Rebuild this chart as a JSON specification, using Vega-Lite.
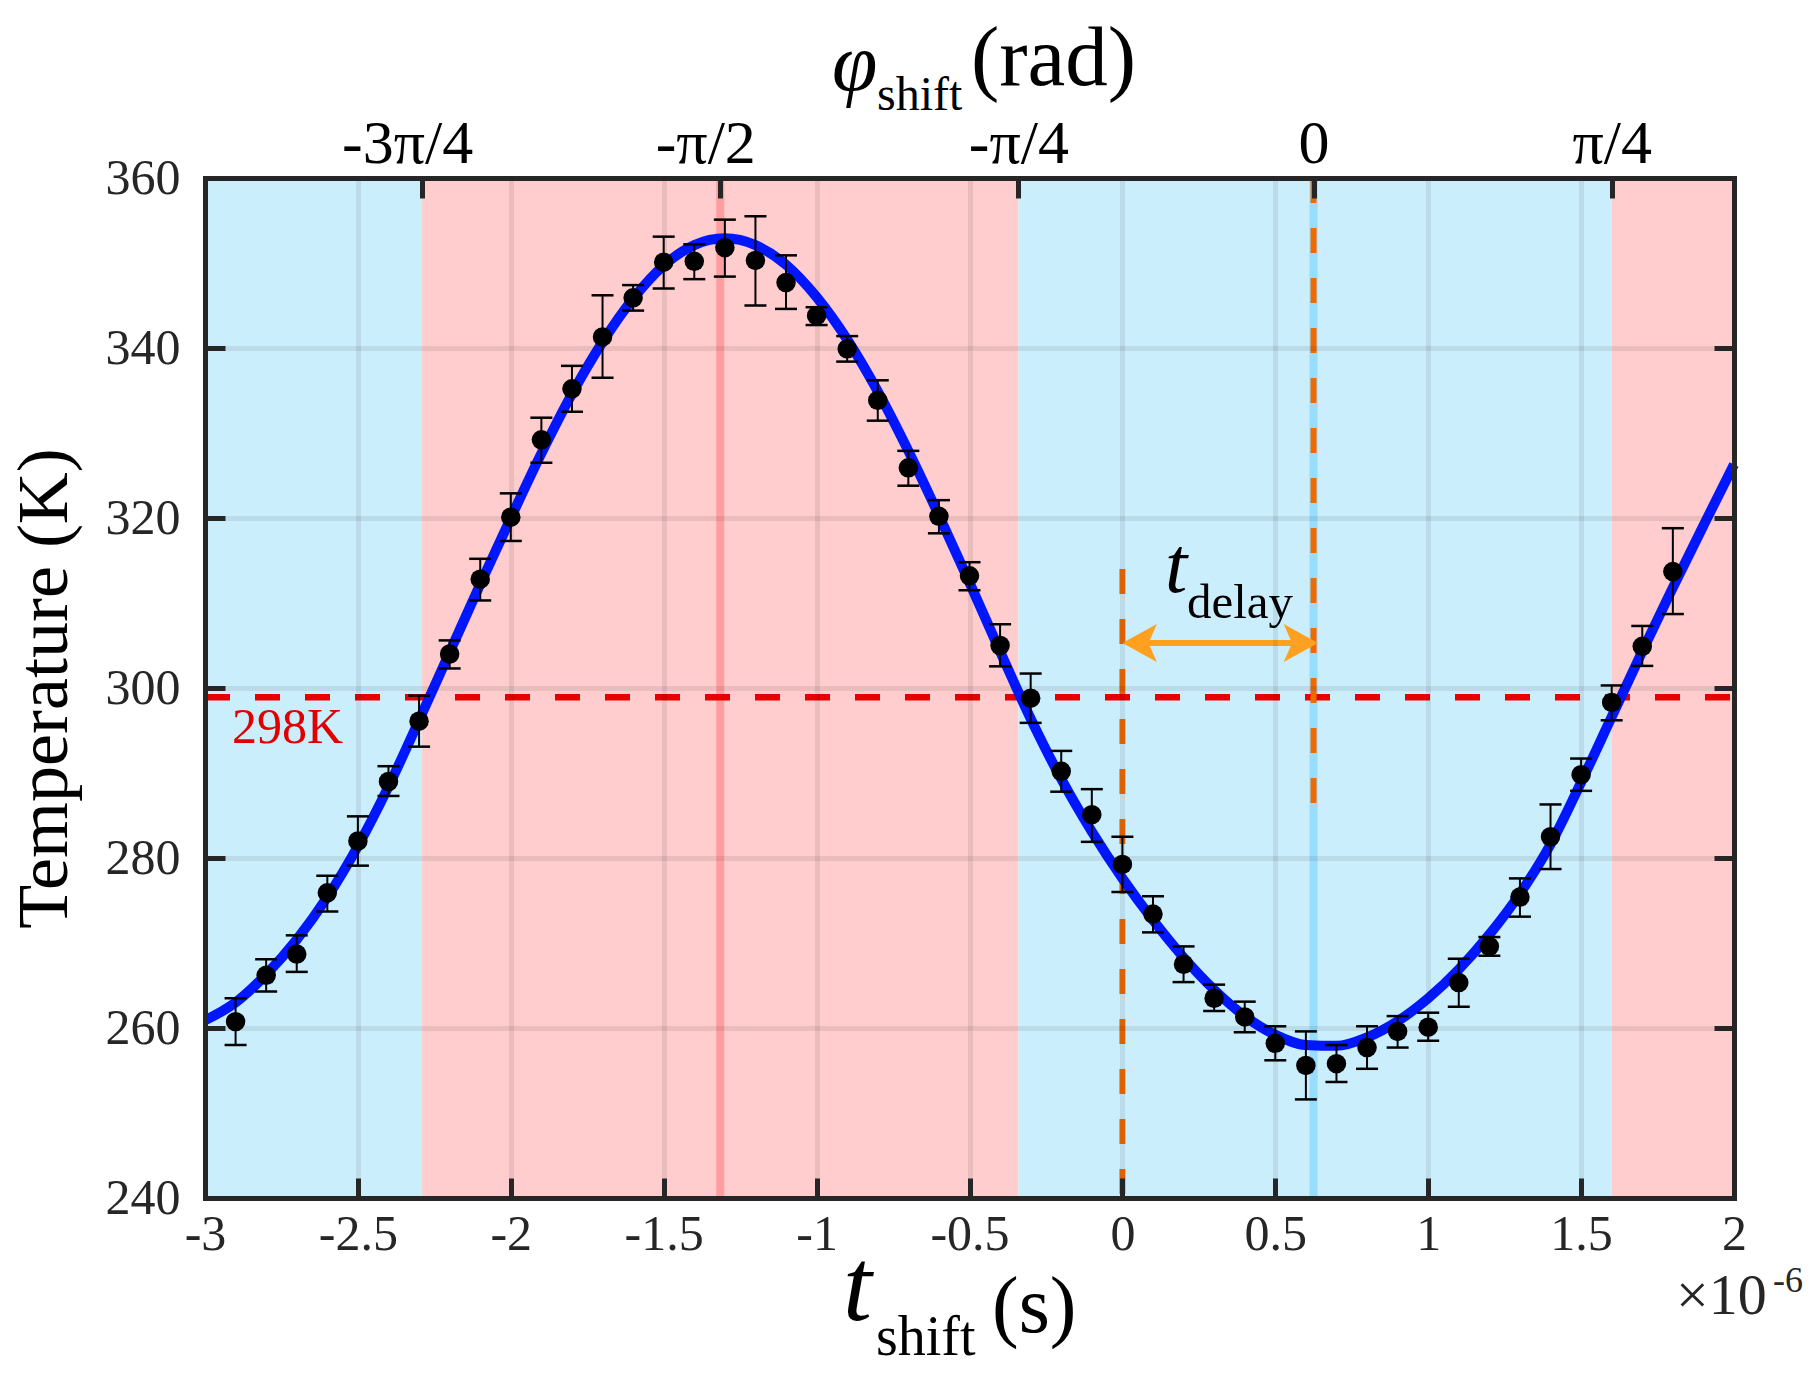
{
  "$schema": "https://vega.github.io/schema/vega-lite/v6.json",
  "width": 1529,
  "height": 1020,
  "autosize": {"type": "none"},
  "padding": {"left": 205, "top": 178, "right": 83, "bottom": 175},
  "background": "white",
  "config": {"view": {"stroke": null}, "font": "Liberation Serif"},
  "datasets": {
    "zones": [
      {"t0": -3, "t1": -2.29, "zone": "cool"},
      {"t0": -2.29, "t1": -0.34, "zone": "warm"},
      {"t0": -0.34, "t1": 1.6, "zone": "cool"},
      {"t0": 1.6, "t1": 2, "zone": "warm"}
    ],
    "fit": [
      {"t": -3.0, "T": 260.9}, {"t": -2.9, "T": 263.0}, {"t": -2.8, "T": 266.3}, {"t": -2.7, "T": 270.4},
      {"t": -2.6, "T": 275.4}, {"t": -2.5, "T": 281.4}, {"t": -2.4, "T": 288.4}, {"t": -2.3, "T": 296.2},
      {"t": -2.2, "T": 304.2}, {"t": -2.1, "T": 312.2}, {"t": -2.0, "T": 320.0}, {"t": -1.9, "T": 327.6},
      {"t": -1.8, "T": 334.6}, {"t": -1.7, "T": 340.7}, {"t": -1.6, "T": 345.8}, {"t": -1.5, "T": 349.7},
      {"t": -1.4, "T": 352.1}, {"t": -1.3, "T": 352.9}, {"t": -1.2, "T": 352.1}, {"t": -1.1, "T": 349.8},
      {"t": -1.0, "T": 346.0}, {"t": -0.9, "T": 341.0}, {"t": -0.8, "T": 334.9}, {"t": -0.7, "T": 327.9},
      {"t": -0.6, "T": 320.3}, {"t": -0.5, "T": 312.4}, {"t": -0.4, "T": 304.3}, {"t": -0.3, "T": 296.4},
      {"t": -0.2, "T": 289.3}, {"t": -0.1, "T": 283.1}, {"t": 0.0, "T": 277.6}, {"t": 0.1, "T": 272.7},
      {"t": 0.2, "T": 268.3}, {"t": 0.3, "T": 264.5}, {"t": 0.4, "T": 261.4}, {"t": 0.5, "T": 259.2},
      {"t": 0.6, "T": 258.0}, {"t": 0.7, "T": 257.9}, {"t": 0.8, "T": 258.9}, {"t": 0.9, "T": 260.8},
      {"t": 1.0, "T": 263.5}, {"t": 1.1, "T": 266.9}, {"t": 1.2, "T": 271.0}, {"t": 1.3, "T": 275.8},
      {"t": 1.4, "T": 281.6}, {"t": 1.5, "T": 288.9}, {"t": 1.6, "T": 296.6}, {"t": 1.7, "T": 304.3},
      {"t": 1.8, "T": 311.8}, {"t": 1.9, "T": 319.1}, {"t": 2.0, "T": 326.3}
    ],
    "meas": [
      {"t": -2.9, "T": 260.75, "lo": 258.0, "hi": 263.5},
      {"t": -2.8, "T": 266.2, "lo": 264.3, "hi": 268.1},
      {"t": -2.7, "T": 268.7, "lo": 266.6, "hi": 270.9},
      {"t": -2.6, "T": 275.9, "lo": 273.7, "hi": 277.9},
      {"t": -2.5, "T": 282.0, "lo": 279.1, "hi": 284.9},
      {"t": -2.4, "T": 289.0, "lo": 287.3, "hi": 290.8},
      {"t": -2.3, "T": 296.1, "lo": 293.1, "hi": 299.1},
      {"t": -2.2, "T": 304.0, "lo": 302.3, "hi": 305.6},
      {"t": -2.1, "T": 312.8, "lo": 310.3, "hi": 315.2},
      {"t": -2.0, "T": 320.1, "lo": 317.3, "hi": 322.9},
      {"t": -1.9, "T": 329.2, "lo": 326.5, "hi": 331.8},
      {"t": -1.8, "T": 335.2, "lo": 332.5, "hi": 337.9},
      {"t": -1.7, "T": 341.3, "lo": 336.5, "hi": 346.2},
      {"t": -1.6, "T": 345.9, "lo": 344.4, "hi": 347.4},
      {"t": -1.5, "T": 350.1, "lo": 347.0, "hi": 353.1},
      {"t": -1.4, "T": 350.2, "lo": 348.1, "hi": 352.2},
      {"t": -1.3, "T": 351.8, "lo": 348.4, "hi": 355.1},
      {"t": -1.2, "T": 350.3, "lo": 345.0, "hi": 355.5},
      {"t": -1.1, "T": 347.7, "lo": 344.6, "hi": 350.9},
      {"t": -1.0, "T": 343.8, "lo": 342.7, "hi": 344.8},
      {"t": -0.9, "T": 339.9, "lo": 338.4, "hi": 341.4},
      {"t": -0.8, "T": 333.85, "lo": 331.45, "hi": 336.2},
      {"t": -0.7, "T": 325.9, "lo": 323.8, "hi": 327.9},
      {"t": -0.6, "T": 320.2, "lo": 318.2, "hi": 322.1},
      {"t": -0.5, "T": 313.2, "lo": 311.5, "hi": 314.8},
      {"t": -0.4, "T": 305.0, "lo": 302.55, "hi": 307.5},
      {"t": -0.3, "T": 298.8, "lo": 295.9, "hi": 301.7},
      {"t": -0.2, "T": 290.2, "lo": 287.8, "hi": 292.6},
      {"t": -0.1, "T": 285.1, "lo": 281.9, "hi": 288.1},
      {"t": 0.0, "T": 279.25, "lo": 276.0, "hi": 282.5},
      {"t": 0.1, "T": 273.4, "lo": 271.25, "hi": 275.5},
      {"t": 0.2, "T": 267.5, "lo": 265.4, "hi": 269.6},
      {"t": 0.3, "T": 263.5, "lo": 262.0, "hi": 265.1},
      {"t": 0.4, "T": 261.3, "lo": 259.5, "hi": 263.1},
      {"t": 0.5, "T": 258.2, "lo": 256.2, "hi": 260.2},
      {"t": 0.6, "T": 255.6, "lo": 251.6, "hi": 259.6},
      {"t": 0.7, "T": 255.8, "lo": 253.65, "hi": 258.0},
      {"t": 0.8, "T": 257.7, "lo": 255.2, "hi": 260.2},
      {"t": 0.9, "T": 259.6, "lo": 257.7, "hi": 261.4},
      {"t": 1.0, "T": 260.1, "lo": 258.5, "hi": 261.8},
      {"t": 1.1, "T": 265.35, "lo": 262.5, "hi": 268.15},
      {"t": 1.2, "T": 269.6, "lo": 268.5, "hi": 270.7},
      {"t": 1.3, "T": 275.4, "lo": 273.1, "hi": 277.6},
      {"t": 1.4, "T": 282.5, "lo": 278.7, "hi": 286.3},
      {"t": 1.5, "T": 289.8, "lo": 287.9, "hi": 291.7},
      {"t": 1.6, "T": 298.3, "lo": 296.2, "hi": 300.3},
      {"t": 1.7, "T": 304.9, "lo": 302.6, "hi": 307.3},
      {"t": 1.8, "T": 313.7, "lo": 308.7, "hi": 318.8}
    ]
  },
  "resolve": {"axis": {"x": "independent", "y": "independent"}, "scale": {"color": "independent", "shape": "independent"}},
  "layer": [
    {
      "data": {"name": "zones"},
      "mark": {"type": "rect"},
      "encoding": {
        "x": {"field": "t0", "type": "quantitative", "scale": {"domain": [-3, 2], "nice": false},
          "axis": {"orient": "bottom", "values": [-3, -2.5, -2, -1.5, -1, -0.5, 0, 0.5, 1, 1.5, 2],
            "labelExpr": "toString(datum.value)", "title": null, "zindex": 1,
            "domainColor": "#262626", "domainWidth": 5, "domainCap": "square",
            "tickColor": "#262626", "tickWidth": 5, "tickSize": -20,
            "labelFont": "Liberation Serif", "labelFontSize": 50, "labelColor": "#262626", "labelPadding": 31,
            "labelFlush": false, "labelOverlap": false, "labelBound": false,
            "grid": true, "gridColor": "#000000", "gridOpacity": 0.08, "gridWidth": 5}},
        "x2": {"field": "t1"},
        "y": {"datum": 240, "type": "quantitative", "scale": {"domain": [240, 360], "nice": false},
          "axis": {"orient": "left", "values": [240, 260, 280, 300, 320, 340, 360],
            "labelExpr": "toString(datum.value)", "zindex": 1,
            "title": "Temperature (K)", "titleFont": "Liberation Serif", "titleFontSize": 72, "titleFontWeight": "normal", "titleColor": "#000000", "titlePadding": 24,
            "domainColor": "#262626", "domainWidth": 5, "domainCap": "square",
            "tickColor": "#262626", "tickWidth": 5, "tickSize": -20,
            "labelFont": "Liberation Serif", "labelFontSize": 50, "labelColor": "#262626", "labelPadding": 45,
            "labelFlush": false, "labelOverlap": false, "labelBound": false,
            "grid": true, "gridColor": "#000000", "gridOpacity": 0.08, "gridWidth": 5}},
        "y2": {"datum": 360},
        "color": {"field": "zone", "type": "nominal", "scale": {"domain": ["cool", "warm"], "range": ["#cbeefd", "#ffcdcd"]}, "legend": null}
      }
    },
    {
      "data": {"values": [{"t": -1.315}]},
      "mark": {"type": "rule", "color": "#ff6666", "opacity": 0.45, "strokeWidth": 8},
      "encoding": {
        "x": {"field": "t", "type": "quantitative", "scale": {"domain": [-3, 2], "nice": false},
          "axis": {"orient": "top", "values": [-2.29, -1.315, -0.34, 0.625, 1.6],
            "labelExpr": "datum.value < -2 ? '-3π/4' : datum.value < -1 ? '-π/2' : datum.value < 0 ? '-π/4' : datum.value < 1 ? '0' : 'π/4'",
            "labelOffset": {"condition": {"test": "datum.value < -1", "value": -15}, "value": 0},
            "title": null, "zindex": 1, "grid": false,
            "domainColor": "#262626", "domainWidth": 5, "domainCap": "square",
            "tickColor": "#262626", "tickWidth": 5, "tickSize": -20,
            "labelFont": "Liberation Serif", "labelFontSize": 62, "labelColor": "#000000", "labelPadding": 23,
            "labelFlush": false, "labelOverlap": false, "labelBound": false}},
        "y": {"datum": 240, "type": "quantitative", "scale": {"domain": [240, 360], "nice": false},
          "axis": {"orient": "right", "values": [240, 260, 280, 300, 320, 340, 360], "labels": false,
            "title": null, "zindex": 1, "grid": false,
            "domainColor": "#262626", "domainWidth": 5, "domainCap": "square",
            "tickColor": "#262626", "tickWidth": 5, "tickSize": -20}},
        "y2": {"datum": 360}
      }
    },
    {
      "data": {"values": [{"t": 0.625}]},
      "mark": {"type": "rule", "color": "#66ccff", "opacity": 0.5, "strokeWidth": 8},
      "encoding": {
        "x": {"field": "t", "type": "quantitative", "scale": {"domain": [-3, 2], "nice": false}, "axis": null},
        "y": {"datum": 240, "type": "quantitative", "scale": {"domain": [240, 360], "nice": false}, "axis": null},
        "y2": {"datum": 360}
      }
    },
    {
      "data": {"values": [{"t0": -3, "t1": 2, "T": 298.9}]},
      "mark": {"type": "rule", "color": "#e60000", "strokeWidth": 6.5, "strokeDash": [25, 25]},
      "encoding": {
        "x": {"field": "t0", "type": "quantitative", "scale": {"domain": [-3, 2], "nice": false}, "axis": null},
        "x2": {"field": "t1"},
        "y": {"field": "T", "type": "quantitative", "scale": {"domain": [240, 360], "nice": false}, "axis": null}
      }
    },
    {
      "data": {"values": [{"t": 0, "Ta": 314.0, "Tb": 240}, {"t": 0.625, "Ta": 360, "Tb": 286.0}]},
      "mark": {"type": "rule", "color": "#f06a00", "strokeWidth": 6, "strokeDash": [25, 25]},
      "encoding": {
        "x": {"field": "t", "type": "quantitative", "scale": {"domain": [-3, 2], "nice": false}, "axis": null},
        "y": {"field": "Ta", "type": "quantitative", "scale": {"domain": [240, 360], "nice": false}, "axis": null},
        "y2": {"field": "Tb"}
      }
    },
    {
      "data": {"name": "fit"},
      "mark": {"type": "line", "color": "#0016ff", "strokeWidth": 10, "interpolate": "monotone"},
      "encoding": {
        "x": {"field": "t", "type": "quantitative", "scale": {"domain": [-3, 2], "nice": false}, "axis": null},
        "y": {"field": "T", "type": "quantitative", "scale": {"domain": [240, 360], "nice": false}, "axis": null}
      }
    },
    {
      "data": {"name": "meas"},
      "mark": {"type": "rule", "color": "#000000", "strokeWidth": 2},
      "encoding": {
        "x": {"field": "t", "type": "quantitative", "scale": {"domain": [-3, 2], "nice": false}, "axis": null},
        "y": {"field": "lo", "type": "quantitative", "scale": {"domain": [240, 360], "nice": false}, "axis": null},
        "y2": {"field": "hi"}
      }
    },
    {
      "data": {"name": "meas"},
      "transform": [{"fold": ["lo", "hi"], "as": ["end", "val"]}],
      "mark": {"type": "tick", "color": "#000000", "orient": "horizontal", "size": 22, "thickness": 2.5, "opacity": 1},
      "encoding": {
        "x": {"field": "t", "type": "quantitative", "scale": {"domain": [-3, 2], "nice": false}, "axis": null},
        "y": {"field": "val", "type": "quantitative", "scale": {"domain": [240, 360], "nice": false}, "axis": null}
      }
    },
    {
      "data": {"name": "meas"},
      "mark": {"type": "circle", "color": "#000000", "size": 380, "opacity": 1},
      "encoding": {
        "x": {"field": "t", "type": "quantitative", "scale": {"domain": [-3, 2], "nice": false}, "axis": null},
        "y": {"field": "T", "type": "quantitative", "scale": {"domain": [240, 360], "nice": false}, "axis": null}
      }
    },
    {
      "data": {"values": [{"t0": 0.06, "t1": 0.58, "T": 305.3}]},
      "mark": {"type": "rule", "color": "#ffa020", "strokeWidth": 6},
      "encoding": {
        "x": {"field": "t0", "type": "quantitative", "scale": {"domain": [-3, 2], "nice": false}, "axis": null},
        "x2": {"field": "t1"},
        "y": {"field": "T", "type": "quantitative", "scale": {"domain": [240, 360], "nice": false}, "axis": null}
      }
    },
    {
      "data": {"values": [{"t": 0.0, "T": 305.3, "dir": "left"}, {"t": 0.64, "T": 305.3, "dir": "right"}]},
      "mark": {"type": "point", "filled": true, "color": "#ffa020", "opacity": 1, "size": 2256, "strokeWidth": 0},
      "encoding": {
        "x": {"field": "t", "type": "quantitative", "scale": {"domain": [-3, 2], "nice": false}, "axis": null},
        "y": {"field": "T", "type": "quantitative", "scale": {"domain": [240, 360], "nice": false}, "axis": null},
        "shape": {"field": "dir", "type": "nominal", "scale": {"domain": ["left", "right"], "range": ["M0,0L1.45,-0.8L1.1,0L1.45,0.8Z", "M0,0L-1.45,-0.8L-1.1,0L-1.45,0.8Z"]}, "legend": null}
      }
    },
    {
      "data": {"values": [{"label": "298K", "t": -2.9117, "T": 293.53}]},
      "mark": {"type": "text", "align": "left", "baseline": "alphabetic", "font": "Liberation Serif", "fontSize": 50, "color": "#e00000"},
      "encoding": {
        "x": {"field": "t", "type": "quantitative", "scale": {"domain": [-3, 2], "nice": false}, "axis": null},
        "y": {"field": "T", "type": "quantitative", "scale": {"domain": [240, 360], "nice": false}, "axis": null},
        "text": {"field": "label"}
      }
    },
    {
      "data": {"values": [{"label": "t", "t": 0.1393, "T": 311.29}]},
      "mark": {"type": "text", "align": "left", "baseline": "alphabetic", "font": "Liberation Serif", "fontStyle": "italic", "fontSize": 80, "color": "#000000"},
      "encoding": {
        "x": {"field": "t", "type": "quantitative", "scale": {"domain": [-3, 2], "nice": false}, "axis": null},
        "y": {"field": "T", "type": "quantitative", "scale": {"domain": [240, 360], "nice": false}, "axis": null},
        "text": {"field": "label"}
      }
    },
    {
      "data": {"values": [{"label": "delay", "t": 0.2112, "T": 308.24}]},
      "mark": {"type": "text", "align": "left", "baseline": "alphabetic", "font": "Liberation Serif", "fontSize": 49, "color": "#000000"},
      "encoding": {
        "x": {"field": "t", "type": "quantitative", "scale": {"domain": [-3, 2], "nice": false}, "axis": null},
        "y": {"field": "T", "type": "quantitative", "scale": {"domain": [240, 360], "nice": false}, "axis": null},
        "text": {"field": "label"}
      }
    },
    {
      "data": {"values": [{"label": "t", "t": -0.9137, "T": 225.65}]},
      "mark": {"type": "text", "align": "left", "baseline": "alphabetic", "font": "Liberation Serif", "fontStyle": "italic", "fontSize": 104, "color": "#000000"},
      "encoding": {
        "x": {"field": "t", "type": "quantitative", "scale": {"domain": [-3, 2], "nice": false}, "axis": null},
        "y": {"field": "T", "type": "quantitative", "scale": {"domain": [240, 360], "nice": false}, "axis": null},
        "text": {"field": "label"}
      }
    },
    {
      "data": {"values": [{"label": "shift", "t": -0.8058, "T": 221.53}]},
      "mark": {"type": "text", "align": "left", "baseline": "alphabetic", "font": "Liberation Serif", "fontSize": 56, "color": "#000000"},
      "encoding": {
        "x": {"field": "t", "type": "quantitative", "scale": {"domain": [-3, 2], "nice": false}, "axis": null},
        "y": {"field": "T", "type": "quantitative", "scale": {"domain": [240, 360], "nice": false}, "axis": null},
        "text": {"field": "label"}
      }
    },
    {
      "data": {"values": [{"label": "(s)", "t": -0.4264, "T": 224.24}]},
      "mark": {"type": "text", "align": "left", "baseline": "alphabetic", "font": "Liberation Serif", "fontSize": 80, "color": "#000000"},
      "encoding": {
        "x": {"field": "t", "type": "quantitative", "scale": {"domain": [-3, 2], "nice": false}, "axis": null},
        "y": {"field": "T", "type": "quantitative", "scale": {"domain": [240, 360], "nice": false}, "axis": null},
        "text": {"field": "label"}
      }
    },
    {
      "data": {"values": [{"label": "φ", "t": -0.9497, "T": 370.35}]},
      "mark": {"type": "text", "align": "left", "baseline": "alphabetic", "font": "Liberation Serif", "fontStyle": "italic", "fontSize": 82, "color": "#000000"},
      "encoding": {
        "x": {"field": "t", "type": "quantitative", "scale": {"domain": [-3, 2], "nice": false}, "axis": null},
        "y": {"field": "T", "type": "quantitative", "scale": {"domain": [240, 360], "nice": false}, "axis": null},
        "text": {"field": "label"}
      }
    },
    {
      "data": {"values": [{"label": "shift", "t": -0.8025, "T": 368.0}]},
      "mark": {"type": "text", "align": "left", "baseline": "alphabetic", "font": "Liberation Serif", "fontSize": 48, "color": "#000000"},
      "encoding": {
        "x": {"field": "t", "type": "quantitative", "scale": {"domain": [-3, 2], "nice": false}, "axis": null},
        "y": {"field": "T", "type": "quantitative", "scale": {"domain": [240, 360], "nice": false}, "axis": null},
        "text": {"field": "label"}
      }
    },
    {
      "data": {"values": [{"label": "(rad)", "t": -0.4951, "T": 370.94}]},
      "mark": {"type": "text", "align": "left", "baseline": "alphabetic", "font": "Liberation Serif", "fontSize": 85, "color": "#000000"},
      "encoding": {
        "x": {"field": "t", "type": "quantitative", "scale": {"domain": [-3, 2], "nice": false}, "axis": null},
        "y": {"field": "T", "type": "quantitative", "scale": {"domain": [240, 360], "nice": false}, "axis": null},
        "text": {"field": "label"}
      }
    },
    {
      "data": {"values": [{"label": "×10", "t": 1.8103, "T": 226.35}]},
      "mark": {"type": "text", "align": "left", "baseline": "alphabetic", "font": "Liberation Serif", "fontSize": 58, "color": "#262626"},
      "encoding": {
        "x": {"field": "t", "type": "quantitative", "scale": {"domain": [-3, 2], "nice": false}, "axis": null},
        "y": {"field": "T", "type": "quantitative", "scale": {"domain": [240, 360], "nice": false}, "axis": null},
        "text": {"field": "label"}
      }
    },
    {
      "data": {"values": [{"label": "-6", "t": 2.1275, "T": 228.94}]},
      "mark": {"type": "text", "align": "left", "baseline": "alphabetic", "font": "Liberation Serif", "fontSize": 36, "color": "#262626"},
      "encoding": {
        "x": {"field": "t", "type": "quantitative", "scale": {"domain": [-3, 2], "nice": false}, "axis": null},
        "y": {"field": "T", "type": "quantitative", "scale": {"domain": [240, 360], "nice": false}, "axis": null},
        "text": {"field": "label"}
      }
    }
  ]
}
